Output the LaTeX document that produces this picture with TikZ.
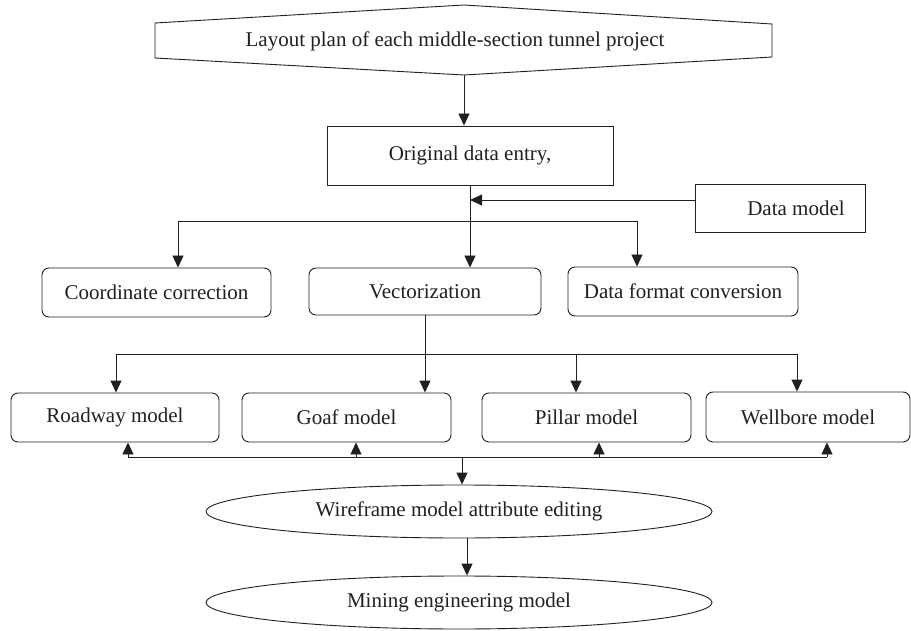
\documentclass[tikz,border=0pt]{standalone}
\usepackage{fontspec}
\setmainfont{Liberation Serif}
\usetikzlibrary{arrows.meta,shapes.geometric}
\definecolor{ink}{HTML}{231F20}
\begin{document}
\begin{tikzpicture}[x=1pt,y=-1pt,
  every node/.style={font=\fontsize{21}{25}\selectfont, text=ink},
  sq/.style={draw=ink, line width=0.9pt, inner sep=0pt},
  rbox/.style={sq, rounded corners=7pt},
  oval/.style={sq, ellipse, minimum width=506pt, minimum height=53pt},
  ln/.style={draw=ink, line width=0.9pt},
  arr/.style={ln, -{Triangle[length=12pt,width=11pt]}}]
\useasboundingbox (0,0) rectangle (911,631);
% top hexagon
\draw[ln, fill=white] (155,23) -- (464,5) -- (772,24) -- (772,57) -- (464,75) -- (155,58) -- cycle;
\coordinate (hexb) at (464,75);
\node (lay) at (455,41) {Layout plan of each middle-section tunnel project};
% boxes
\node[sq, minimum width=286pt, minimum height=59pt] (orig) at (470,155.5) {Original data entry,};
\node[sq, minimum width=170pt, minimum height=48pt] (dm) at (780,208) {\hspace*{32pt}Data model};
\node[rbox, minimum width=229pt, minimum height=49pt] (cc) at (156.5,292.5) {Coordinate correction};
\node[rbox, minimum width=232pt, minimum height=47pt] (vec) at (425,291.5) {Vectorization};
\node[rbox, minimum width=230pt, minimum height=49pt] (dfc) at (683,291.5) {Data format conversion};
\node[rbox, minimum width=208pt, minimum height=49pt] (road) at (115,417.5) {Roadway model};
\node[rbox, minimum width=209pt, minimum height=49pt] (goaf) at (346.5,417.5) {Goaf model};
\node[rbox, minimum width=209pt, minimum height=49pt] (pil) at (586.5,417.5) {Pillar model};
\node[rbox, minimum width=204pt, minimum height=50pt] (well) at (808,417) {Wellbore model};
\node[oval] (e1) at (459,511.5) {Wireframe model attribute editing};
\node[oval] (e2) at (459,602.5) {Mining engineering model};
% helper coordinates
\coordinate (ya) at (0,200);
\coordinate (yb) at (0,221);
\coordinate (yc) at (0,354);
\coordinate (fa) at (178,221);
\coordinate (fc) at (637,221);
\coordinate (g1) at (116,354);
\coordinate (g3) at (576,354);
\coordinate (g4) at (797,354);
\coordinate (h1) at (128,457);
\coordinate (h2) at (356,457);
\coordinate (h3) at (599,457);
\coordinate (h4) at (827,457);
\coordinate (h0) at (462,457);
% connectors
\draw[arr] (hexb) -- (hexb |- orig.north);
\draw[ln] (orig.south) -- (orig.south |- yb);
\draw[arr] (dm.west |- ya) -- (orig.south |- ya);
\draw[ln] (fa) -- (fc);
\draw[arr] (fa) -- (fa |- cc.north);
\draw[arr] (orig.south |- yb) -- (orig.south |- vec.north);
\draw[arr] (fc) -- (fc |- dfc.north);
\draw[ln] (vec.south) -- (vec.south |- yc);
\draw[ln] (g1) -- (g4);
\draw[arr] (g1) -- (g1 |- road.north);
\draw[arr] (vec.south |- yc) -- (vec.south |- goaf.north);
\draw[arr] (g3) -- (g3 |- pil.north);
\draw[arr] (g4) -- (g4 |- well.north);
\draw[ln] (h1) -- (h4);
\draw[arr] (h1) -- (h1 |- road.south);
\draw[arr] (h2) -- (h2 |- goaf.south);
\draw[arr] (h3) -- (h3 |- pil.south);
\draw[arr] (h4) -- (h4 |- well.south);
\draw[arr] (h0) -- (h0 |- e1.north);
\draw[arr] ([xshift=8pt]e1.south) -- ([xshift=8pt]e2.north);
\end{tikzpicture}
\end{document}
